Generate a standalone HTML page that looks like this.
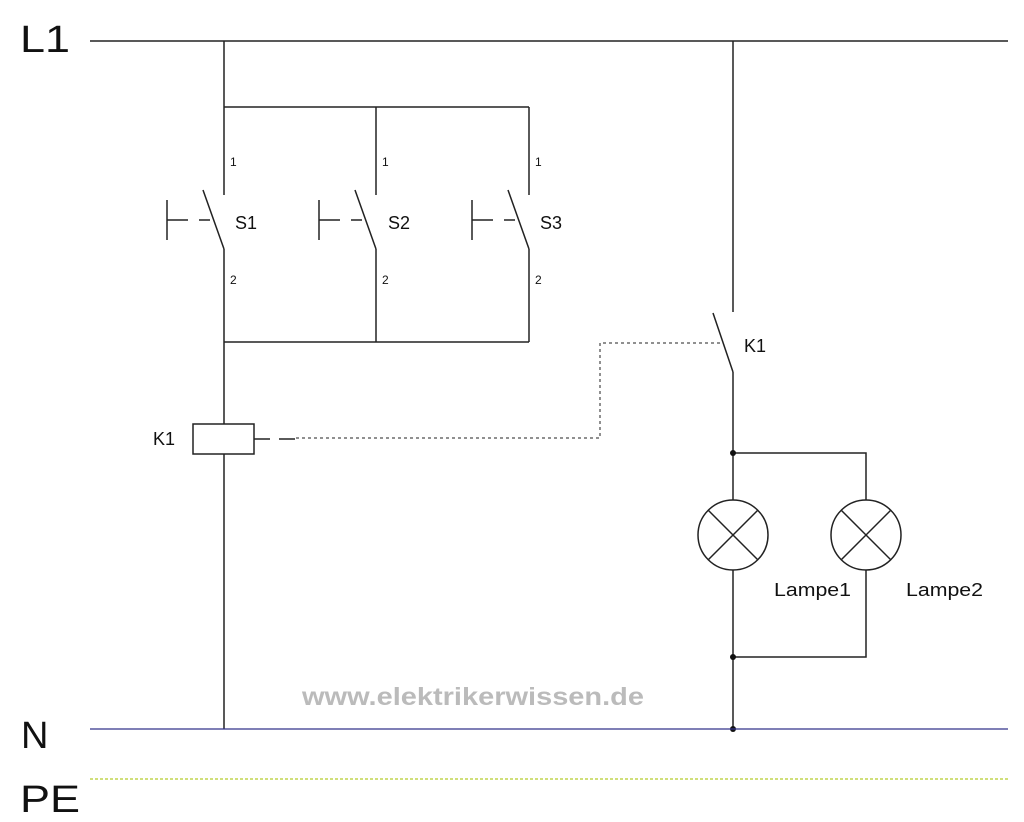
<!DOCTYPE html>
<html><head><style>body{margin:0;background:#fff}svg{display:block}</style></head><body>
<svg width="1024" height="822" xmlns="http://www.w3.org/2000/svg" font-family="Liberation Sans, sans-serif">
<rect width="1024" height="822" fill="#fff"/>
<g stroke="#222" stroke-width="1.5" fill="none">
<line x1="90" y1="41" x2="1008" y2="41"/>
<line x1="224" y1="41" x2="224" y2="195"/>
<line x1="224" y1="107" x2="529" y2="107"/>
<line x1="376" y1="107" x2="376" y2="195"/>
<line x1="529" y1="107" x2="529" y2="195"/>
<g id="sw">
<line x1="203" y1="190" x2="224" y2="249"/>
<line x1="167" y1="200" x2="167" y2="240"/>
<line x1="167" y1="220" x2="188" y2="220"/>
<line x1="199" y1="220" x2="210" y2="220"/>
</g>
<use href="#sw" x="152"/>
<use href="#sw" x="305"/>
<line x1="224" y1="249" x2="224" y2="729"/>
<line x1="376" y1="249" x2="376" y2="342"/>
<line x1="529" y1="249" x2="529" y2="342"/>
<line x1="224" y1="342" x2="529" y2="342"/>
<rect x="193" y="424" width="61" height="30" fill="#fff"/>
<line x1="254" y1="439" x2="270" y2="439"/>
<line x1="279" y1="439" x2="295" y2="439"/>
<path d="M296 438 H600 V343 H723" stroke-width="1" stroke-dasharray="3,3"/>
<line x1="733" y1="41" x2="733" y2="312"/>
<line x1="713" y1="313" x2="733" y2="372"/>
<line x1="733" y1="372" x2="733" y2="500"/>
<line x1="733" y1="570" x2="733" y2="729"/>
<path d="M733 453 H866 V500 M866 570 V657 H733"/>
<circle cx="733" cy="535" r="35"/>
<circle cx="866" cy="535" r="35"/>
<path d="M708 510 L758 560 M758 510 L708 560 M841 510 L891 560 M891 510 L841 560"/>
</g>
<g fill="#111"><circle cx="733" cy="453" r="3"/><circle cx="733" cy="657" r="3"/><circle cx="733" cy="729" r="3"/></g>
<line x1="90" y1="729" x2="1008" y2="729" stroke="#33338a" stroke-width="1.2"/>
<line x1="90" y1="779" x2="1008" y2="779" stroke="#b5cc2a" stroke-width="1.2" stroke-dasharray="3,2"/>
<g fill="#111">
<text x="20" y="52" font-size="38" textLength="50" lengthAdjust="spacingAndGlyphs">L1</text>
<text x="21" y="748" font-size="38">N</text>
<text x="20" y="812" font-size="38" textLength="60" lengthAdjust="spacingAndGlyphs">PE</text>
<g font-size="12"><text x="230" y="166">1</text><text x="382" y="166">1</text><text x="535" y="166">1</text>
<text x="230" y="284">2</text><text x="382" y="284">2</text><text x="535" y="284">2</text></g>
<g font-size="18"><text x="235" y="229">S1</text><text x="388" y="229">S2</text><text x="540" y="229">S3</text>
<text x="153" y="445">K1</text><text x="744" y="352">K1</text></g>
<g font-size="18"><text x="774" y="596" textLength="77" lengthAdjust="spacingAndGlyphs">Lampe1</text><text x="906" y="596" textLength="77" lengthAdjust="spacingAndGlyphs">Lampe2</text></g>
</g>
<text x="302" y="705" font-size="25" font-weight="bold" fill="#bbb" textLength="342" lengthAdjust="spacingAndGlyphs">www.elektrikerwissen.de</text>
</svg>
</body></html>
